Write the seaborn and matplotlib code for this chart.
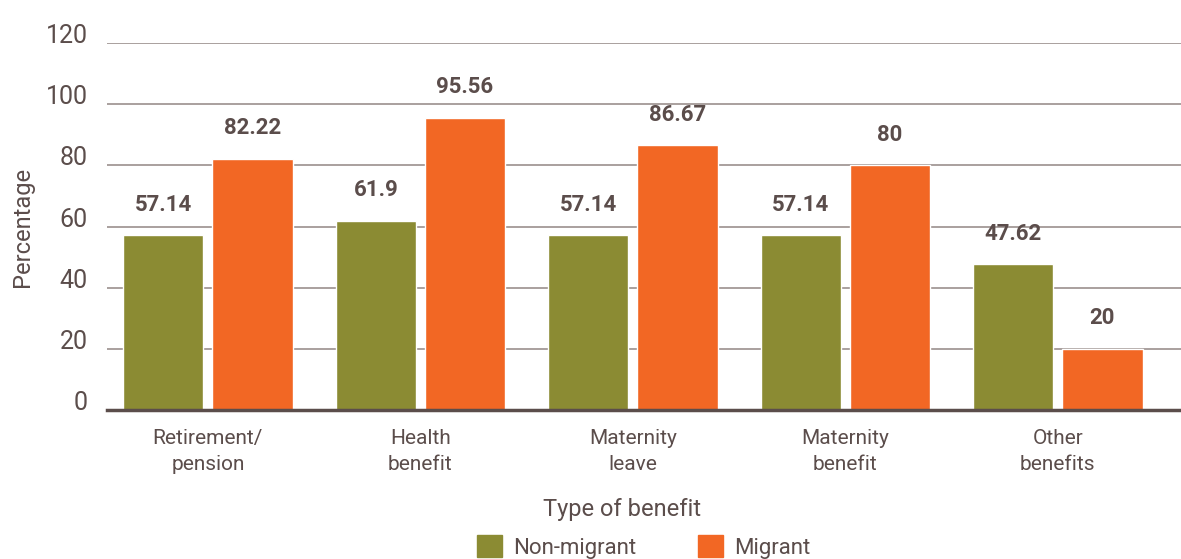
import pandas as pd
import matplotlib.pyplot as plt
import seaborn as sns
from matplotlib.patches import Patch

# Data
categories = ["Retirement/\npension", "Health\nbenefit", "Maternity\nleave",
              "Maternity\nbenefit", "Other\nbenefits"]
non_migrant = [57.14, 61.9, 57.14, 57.14, 47.62]
migrant = [82.22, 95.56, 86.67, 80, 20]
groups = ["Non-migrant", "Migrant"]

df = pd.DataFrame({
    "benefit": categories * 2,
    "group": [groups[0]] * len(categories) + [groups[1]] * len(categories),
    "value": non_migrant + migrant,
})

text_col = "#5b4d4b"
colors = {"Non-migrant": "#8b8b33", "Migrant": "#f26724"}

sns.set_style("white")
plt.rcParams["font.family"] = ["Roboto", "DejaVu Sans"]

fig = plt.figure(figsize=(11.81, 5.59), dpi=100)
ax = fig.add_axes([0.0906, 0.2665, 0.9094, 0.6565])

sns.barplot(data=df, x="benefit", y="value", hue="group", palette=colors,
            width=0.84, gap=0.1, saturation=1, legend=False, ax=ax)

# Value labels
for cont in ax.containers:
    ax.bar_label(cont, labels=[f"{v:g}" for v in cont.datavalues],
                 padding=14, fontsize=16, fontweight="bold", color=text_col)

ax.set_ylim(0, 120)
ax.set_xlim(-0.475, 4.58)
ax.set_yticks(range(0, 121, 20))
ax.yaxis.grid(True, color="#a39896", linewidth=1.3)
ax.set_axisbelow(True)
for s in ["top", "right", "left"]:
    ax.spines[s].set_visible(False)
ax.spines["bottom"].set_color(text_col)
ax.spines["bottom"].set_linewidth(2.5)

ax.tick_params(axis="y", length=0, pad=14, labelsize=18, labelcolor=text_col)
ax.tick_params(axis="x", length=0, pad=14, labelsize=15, labelcolor=text_col)
for lab in ax.get_yticklabels():
    lab.set_verticalalignment("baseline")
for lab in ax.get_xticklabels():
    lab.set_linespacing(1.45)
ax.set_ylabel("Percentage", fontsize=17, color=text_col, labelpad=8)
ax.set_xlabel("Type of benefit", fontsize=17, color=text_col)
ax.xaxis.set_label_coords(0.48, -0.24)

handles = [Patch(color=colors[g], label=g) for g in groups]
fig.legend(handles=handles, loc="lower center", bbox_to_anchor=(0.545, -0.035),
           ncol=2, frameon=False, fontsize=16, handlelength=1.1, handleheight=1.1,
           columnspacing=2.8, handletextpad=0.5, labelcolor=text_col)

fig.savefig("out.png", dpi=100)
